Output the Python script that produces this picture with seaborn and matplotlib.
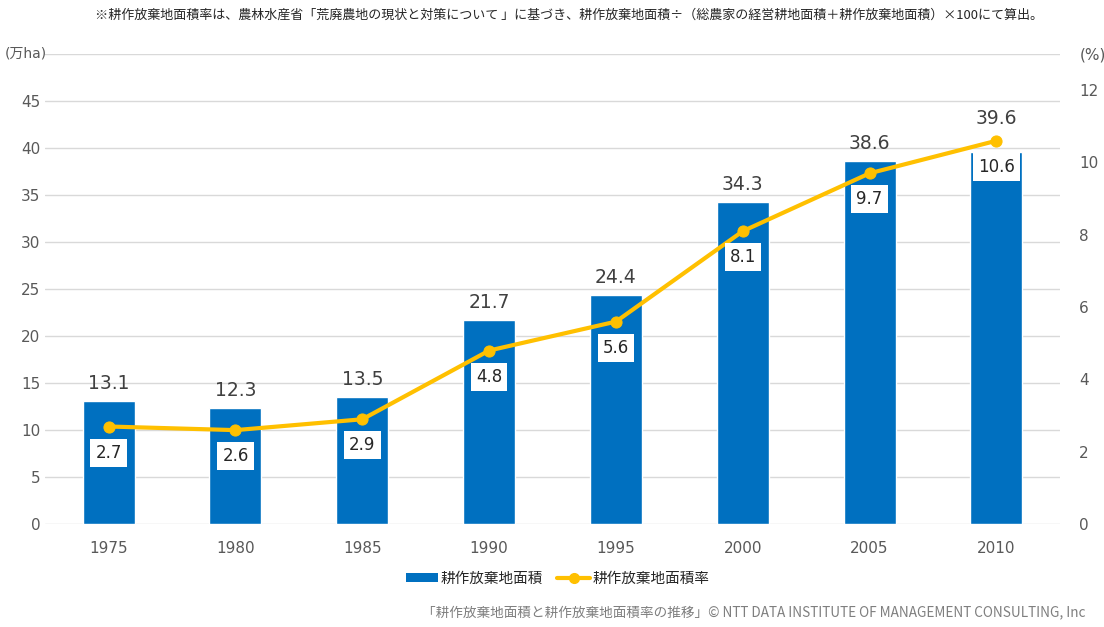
import matplotlib
matplotlib.use('Agg')
import matplotlib.pyplot as plt
import seaborn as sns
import pandas as pd
from matplotlib.lines import Line2D
from matplotlib.patches import Patch

# データ
years = ['1975', '1980', '1985', '1990', '1995', '2000', '2005', '2010']
area = [13.1, 12.3, 13.5, 21.7, 24.4, 34.3, 38.6, 39.6]      # 万ha
rate = [2.7, 2.6, 2.9, 4.8, 5.6, 8.1, 9.7, 10.6]             # %
left_ticks = [0, 5, 10, 15, 20, 25, 30, 35, 40, 45]
right_ticks = [0, 2, 4, 6, 8, 10, 12]

BLUE = '#0070C0'
GOLD = '#FFC000'
GREY = '#595959'

sns.set_style('white')
plt.rcParams['font.family'] = ['DejaVu Sans', 'Noto Sans CJK JP']

df = pd.DataFrame({'year': years, 'area': area, 'rate': rate})

fig = plt.figure(figsize=(11.04, 6.27), dpi=100)
ax = fig.add_axes([0.041, 0.164, 0.919, 0.75])

sns.barplot(data=df, x='year', y='area', color=BLUE, width=0.41, saturation=1, ax=ax, zorder=2)
ax.set_ylim(0, 50)
ax.set_xlim(-0.5, len(years) - 0.5)
ax.set_yticks(left_ticks + [50])
ax.set_yticklabels([str(t) for t in left_ticks] + [''], fontsize=11, color=GREY)
ax.tick_params(axis='both', length=0, labelsize=11, colors=GREY)
ax.tick_params(axis='x', pad=12)
ax.grid(axis='y', color='#d9d9d9', linewidth=1, zorder=0)
ax.set_axisbelow(True)
ax.set_xlabel('')
ax.set_ylabel('')
for s in ax.spines.values():
    s.set_visible(False)

# 単位ラベル
fig.text(0.004, 0.914, '(万ha)', ha='left', va='center', fontsize=10, color=GREY)

ax2 = ax.twinx()
sns.lineplot(x=list(range(len(years))), y=rate, color=GOLD, linewidth=3, marker='o',
             markersize=8, markeredgecolor=GOLD, ax=ax2, zorder=3)
ax2.set_ylim(0, 13)
ax2.set_yticks(right_ticks + [13])
ax2.set_yticklabels([str(t) for t in right_ticks] + ['(%)'], fontsize=11, color=GREY)
ax2.tick_params(axis='y', length=0, pad=14)
ax2.set_ylabel('')
for s in ax2.spines.values():
    s.set_visible(False)
ax2.grid(False)

# 棒グラフの値ラベル（最後だけ線を避けて上へ）
for i, v in enumerate(area):
    off = 24 if i == len(area) - 1 else 8
    ax.annotate(f'{v}', (i, v), xytext=(0, off), textcoords='offset pixels',
                ha='center', va='bottom', fontsize=13.5, color='#404040', zorder=5)

for i, v in enumerate(rate):
    ax2.annotate(f'{v}', (i, v), xytext=(0, -26), textcoords='offset pixels',
                 ha='center', va='center', fontsize=12, color='#262626',
                 bbox=dict(boxstyle='square,pad=0.3', facecolor='white', edgecolor='none'))

handles = [Patch(facecolor=BLUE, edgecolor='none'),
           Line2D([0], [0], color=GOLD, linewidth=3, marker='o', markersize=7)]
fig.legend(handles, ['耕作放棄地面積', '耕作放棄地面積率'], loc='center', bbox_to_anchor=(0.505, 0.078),
           ncol=2, frameon=False, fontsize=10.5, handlelength=2.2, handleheight=0.6,
           columnspacing=1.0, handletextpad=0.2, labelcolor='#262626')

fig.text(0.086, 0.975, '※耕作放棄地面積率は、農林水産省「荒廃農地の現状と対策について 」に基づき、耕作放棄地面積÷（総農家の経営耕地面積＋耕作放棄地面積）×100にて算出。',
         ha='left', va='center', fontsize=9.4, color='#262626', family=['Noto Sans CJK JP', 'DejaVu Sans'])
fig.text(0.983, 0.024, '「耕作放棄地面積と耕作放棄地面積率の推移」© NTT DATA INSTITUTE OF MANAGEMENT CONSULTING, Inc',
         ha='right', va='center', fontsize=9.8, color='#7f7f7f', family=['Noto Sans CJK JP', 'DejaVu Sans'])

fig.savefig('out.png', dpi=100)
